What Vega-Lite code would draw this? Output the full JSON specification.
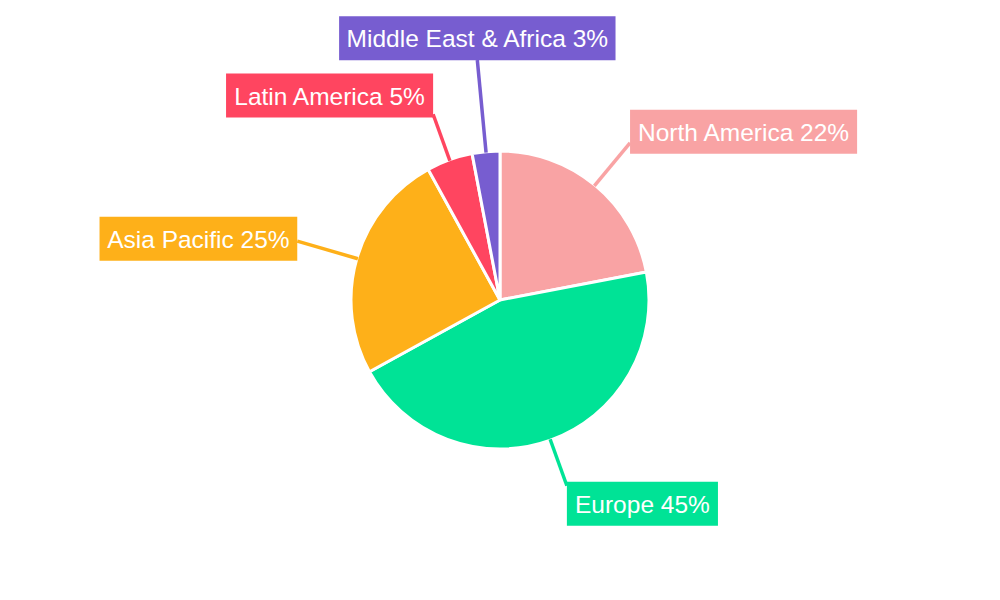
{
  "$schema": "https://vega.github.io/schema/vega-lite/v6.json",
  "width": 1000,
  "height": 600,
  "padding": 0,
  "autosize": {"type": "fit", "contains": "padding"},
  "background": "white",
  "config": {"view": {"stroke": null}},
  "data": {
    "values": [
      {"region": "North America", "share": 22},
      {"region": "Europe", "share": 45},
      {"region": "Asia Pacific", "share": 25},
      {"region": "Latin America", "share": 5},
      {"region": "Middle East & Africa", "share": 3}
    ]
  },
  "transform": [
    {"stack": "share", "groupby": [], "as": ["v0", "v1"]},
    {"calculate": "(datum.v0 + datum.v1) / 100 * PI", "as": "mid"},
    {"calculate": "sin(datum.mid)", "as": "s"},
    {"calculate": "cos(datum.mid)", "as": "c"},
    {"calculate": "190 + 22 * abs(datum.s) + 49 * clamp((datum.c - 0.97) / 0.025, 0, 1)", "as": "R"},
    {"calculate": "datum.s * 148", "as": "sx"},
    {"calculate": "-datum.c * 148", "as": "sy"},
    {"calculate": "datum.s * datum.R", "as": "ex"},
    {"calculate": "-datum.c * datum.R", "as": "ey"},
    {"calculate": "datum.region + ' ' + datum.share + '%'", "as": "label"},
    {"calculate": "0.556*length(datum.label) - 0.334*length(replace(datum.label, regexp('[^ijlI]','g'), '')) - 0.278*length(replace(datum.label, regexp('[^tf ]','g'), '')) - 0.223*length(replace(datum.label, regexp('[^r]','g'), '')) - 0.056*length(replace(datum.label, regexp('[^cskvxyz]','g'), '')) + 0.277*length(replace(datum.label, regexp('[^mM]','g'), '')) + 0.333*length(replace(datum.label, regexp('[^%]','g'), '')) + 0.111*length(replace(datum.label, regexp('[^ABEKPSVXY&]','g'), '')) + 0.166*length(replace(datum.label, regexp('[^CDHNRUw]','g'), ''))", "as": "em"},
    {"calculate": "datum.em * 24 + 19", "as": "w"},
    {"calculate": "abs(datum.s) < 0.15 ? 0 : (datum.s > 0 ? 1 : -1)", "as": "f"},
    {"calculate": "datum.ex + datum.f * datum.w / 2", "as": "bcx"},
    {"calculate": "datum.ey - 22 * datum.c * datum.c * datum.c - 2 * (1 - abs(datum.c * datum.c * datum.c))", "as": "bcy"},
    {"calculate": "datum.bcx - datum.w / 2", "as": "bx0"},
    {"calculate": "datum.bcx + datum.w / 2", "as": "bx1"},
    {"calculate": "datum.bcy - 22", "as": "by0"},
    {"calculate": "datum.bcy + 22", "as": "by1"}
  ],
  "layer": [
    {
      "mark": {"type": "arc", "outerRadius": 149, "stroke": "white", "strokeWidth": 3},
      "encoding": {
        "theta": {"field": "v0", "type": "quantitative", "stack": null, "scale": {"domain": [0, 100]}},
        "theta2": {"field": "v1"},
        "color": {
          "field": "region", "type": "nominal", "legend": null,
          "scale": {
            "domain": ["North America", "Europe", "Asia Pacific", "Latin America", "Middle East & Africa"],
            "range": ["#F9A3A4", "#00E396", "#FEB019", "#FF4560", "#775DD0"]
          }
        }
      }
    },
    {
      "mark": {"type": "rule", "strokeWidth": 3.5},
      "encoding": {
        "x": {"field": "sx", "type": "quantitative", "axis": null, "scale": {"domain": [-500, 500], "nice": false, "zero": false}},
        "y": {"field": "sy", "type": "quantitative", "axis": null, "scale": {"domain": [-300, 300], "nice": false, "zero": false, "reverse": true}},
        "x2": {"field": "ex"},
        "y2": {"field": "ey"},
        "color": {"field": "region", "type": "nominal", "legend": null}
      }
    },
    {
      "mark": {"type": "rect"},
      "encoding": {
        "x": {"field": "bx0", "type": "quantitative", "axis": null, "scale": {"domain": [-500, 500], "nice": false, "zero": false}},
        "y": {"field": "by0", "type": "quantitative", "axis": null, "scale": {"domain": [-300, 300], "nice": false, "zero": false, "reverse": true}},
        "x2": {"field": "bx1"},
        "y2": {"field": "by1"},
        "color": {"field": "region", "type": "nominal", "legend": null}
      }
    },
    {
      "mark": {"type": "text", "align": "center", "baseline": "alphabetic", "dy": 9, "font": "Liberation Sans", "fontSize": 24.5, "fill": "white"},
      "encoding": {
        "x": {"field": "bcx", "type": "quantitative", "axis": null, "scale": {"domain": [-500, 500], "nice": false, "zero": false}},
        "y": {"field": "bcy", "type": "quantitative", "axis": null, "scale": {"domain": [-300, 300], "nice": false, "zero": false, "reverse": true}},
        "text": {"field": "label", "type": "nominal"}
      }
    }
  ]
}
